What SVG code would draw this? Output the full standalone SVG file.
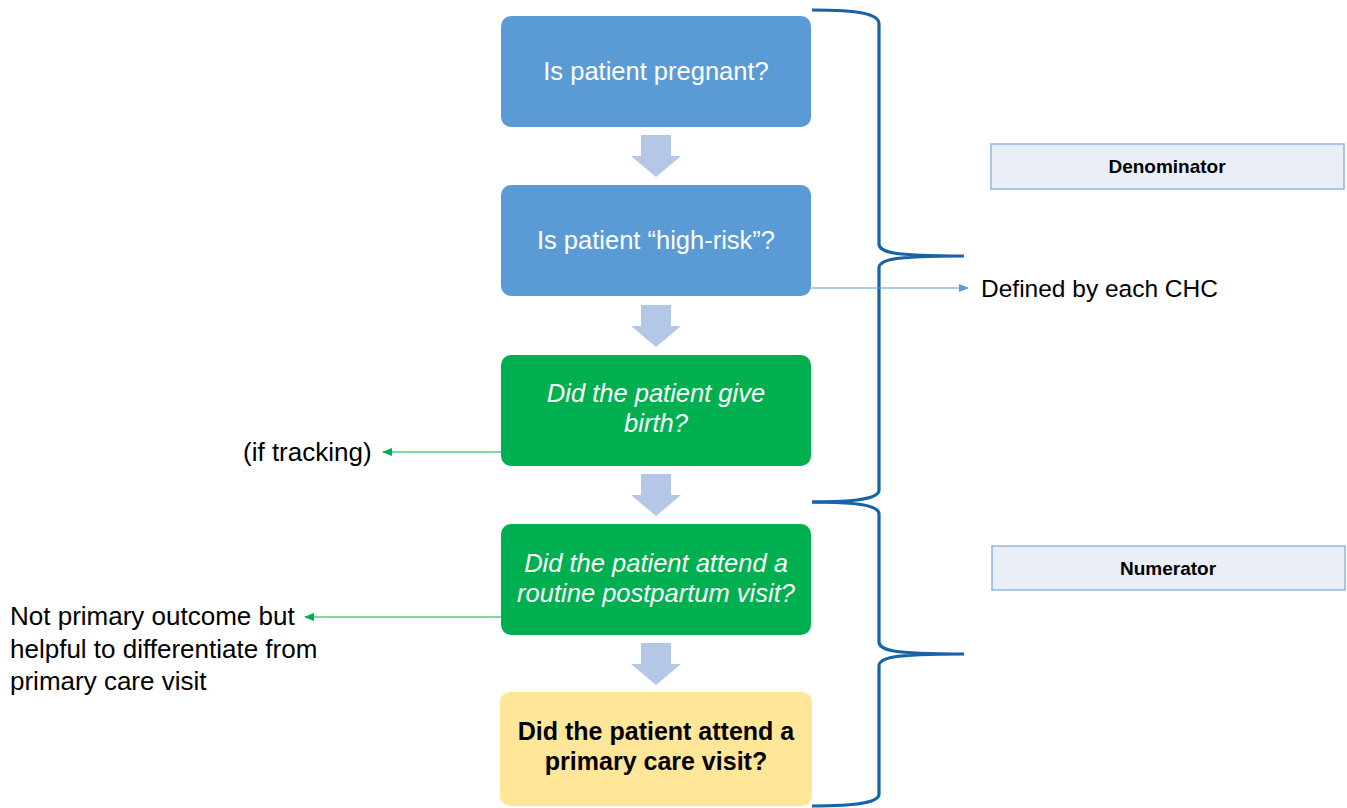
<svg xmlns="http://www.w3.org/2000/svg" width="1347" height="808" viewBox="0 0 1347 808">
<style>
text{font-family:"Liberation Sans",Arial,sans-serif;}
.box{stroke:none;}
.blue{fill:#5B9BD5;}
.green{fill:#00B050;}
.yellow{fill:#FFE699;}
.wt{fill:#FFFFFF;font-size:25.5px;text-anchor:middle;}
.it{font-style:italic;}
.bk{fill:#000000;font-size:25px;font-weight:bold;text-anchor:middle;}
.lbl{fill:#000000;font-size:26px;}
.tag{fill:#E9EEF7;stroke:#8FB6E4;stroke-width:1.5;}
.tagt{fill:#000000;font-size:19px;font-weight:bold;text-anchor:middle;}
.flow{fill:#B4C7E7;}
.brace{fill:none;stroke:#1862A8;stroke-width:3.2;}
.gline{stroke:#00B050;stroke-width:1;fill:none;}
.bline{stroke:#5B9BD5;stroke-width:1;fill:none;}
</style>
<defs>
<marker id="ga" markerWidth="10" markerHeight="10" refX="9" refY="5" orient="auto" markerUnits="userSpaceOnUse">
<path d="M0,1 L10,5 L0,9 Z" fill="#00B050"/>
</marker>
<marker id="ba" markerWidth="10" markerHeight="10" refX="9" refY="5" orient="auto" markerUnits="userSpaceOnUse">
<path d="M0,1 L10,5 L0,9 Z" fill="#5B9BD5"/>
</marker>
</defs>
<rect width="1347" height="808" fill="#FFFFFF"/>

<g id="braces">
<path class="brace" d="M812,10 C860,10 879,14 879,24 L879,244 C879,252 890,256 964,256 C890,256 879,260 879,268 L879,490 C879,498 860,502 812,502"/>
<path class="brace" d="M812,502 C860,502 879,506 879,514 L879,642 C879,650 890,654 964,654 C890,654 879,658 879,666 L879,794 C879,802 860,806 812,806"/>
</g>

<g id="node-pregnant">
<rect class="box blue" x="501" y="16" width="310" height="111" rx="10"/>
<text class="wt" x="656" y="80">Is patient pregnant?</text>
</g>
<g id="node-highrisk">
<rect class="box blue" x="501" y="185" width="310" height="111" rx="10"/>
<text class="wt" x="656" y="249">Is patient “high-risk”?</text>
</g>
<g id="node-birth">
<rect class="box green" x="501" y="355" width="310" height="111" rx="10"/>
<text class="wt it" x="656" y="402">Did the patient give</text>
<text class="wt it" x="656" y="432">birth?</text>
</g>
<g id="node-postpartum">
<rect class="box green" x="501" y="524" width="310" height="111" rx="10"/>
<text class="wt it" x="656" y="572">Did the patient attend a</text>
<text class="wt it" x="656" y="602">routine postpartum visit?</text>
</g>
<g id="node-primary">
<rect class="box yellow" x="500" y="692" width="312" height="114" rx="10"/>
<text class="bk" x="656" y="740">Did the patient attend a</text>
<text class="bk" x="656" y="770">primary care visit?</text>
</g>

<g id="node-denominator">
<rect class="tag" x="991" y="144" width="353" height="45"/>
<text class="tagt" x="1167" y="173">Denominator</text>
</g>
<g id="node-numerator">
<rect class="tag" x="992" y="546" width="353" height="44"/>
<text class="tagt" x="1168" y="575">Numerator</text>
</g>

<g id="label-defined">
<text class="lbl" x="981" y="297" style="font-size:24.5px">Defined by each CHC</text>
</g>
<g id="label-tracking">
<text class="lbl" x="243" y="461">(if tracking)</text>
</g>
<g id="label-notprimary">
<text class="lbl" x="10" y="625">Not primary outcome but</text>
<text class="lbl" x="10" y="658">helpful to differentiate from</text>
<text class="lbl" x="10" y="690">primary care visit</text>
</g>

<g id="connectors">
<polygon class="flow" points="641,135 671,135 671,156 681,156 656,177 631,156 641,156"/>
<polygon class="flow" points="641,305 671,305 671,326 681,326 656,347 631,326 641,326"/>
<polygon class="flow" points="641,474 671,474 671,495 681,495 656,516 631,495 641,495"/>
<polygon class="flow" points="641,643 671,643 671,664 681,664 656,685 631,664 641,664"/>
<line class="bline" x1="811" y1="288" x2="968" y2="288" marker-end="url(#ba)"/>
<line class="gline" x1="501" y1="452" x2="383" y2="452" marker-end="url(#ga)"/>
<line class="gline" x1="501" y1="617" x2="305" y2="617" marker-end="url(#ga)"/>
</g>
</svg>
